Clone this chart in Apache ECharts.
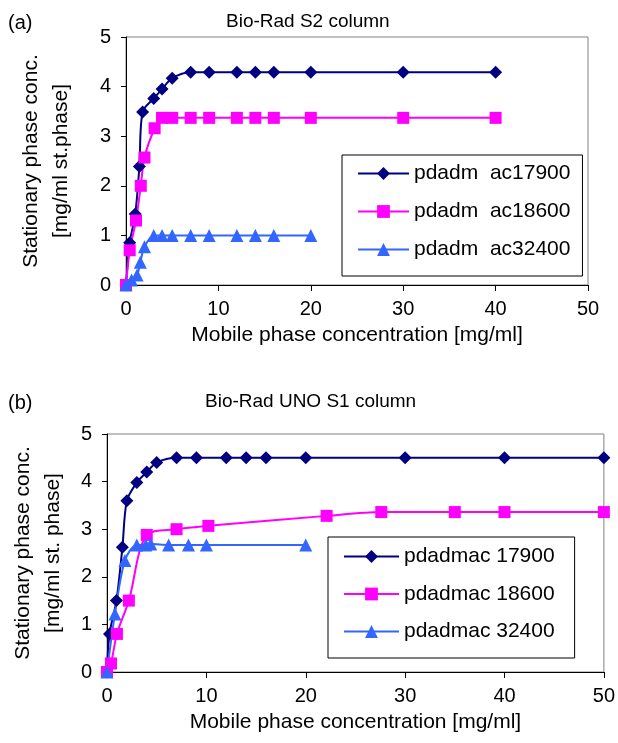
<!DOCTYPE html>
<html>
<head>
<meta charset="utf-8">
<script src="https://cdn.jsdelivr.net/npm/echarts@6/dist/echarts.min.js"></script>
<style>
  html, body { margin: 0; padding: 0; background: #fff; }
  #chart { width: 618px; height: 743px; }
</style>
</head>
<body>
<div id="chart"></div>
<script>
// (a) Bio-Rad S2 column
var s2NavyX = [0, 0.4, 1.0, 1.45, 1.8, 3, 3.9, 5, 7, 9, 12, 14, 16, 20, 30, 40];
var s2NavyY = [0, 0.85, 1.43, 2.39, 3.49, 3.76, 3.95, 4.17, 4.29, 4.29, 4.29, 4.29, 4.29, 4.29, 4.29, 4.29];
var s2PinkX = [0, 0.4, 1.08, 1.6, 2.0, 3.1, 3.9, 5, 7, 9, 12, 14, 16, 20, 30, 40];
var s2PinkY = [0, 0.7, 1.3, 2.0, 2.57, 3.16, 3.37, 3.37, 3.37, 3.37, 3.37, 3.37, 3.37, 3.37, 3.37, 3.37];
var s2BlueX = [0, 0.6, 1.2, 1.55, 2.0, 3, 3.9, 5, 7, 9, 12, 14, 16, 20];
var s2BlueY = [0, 0.1, 0.2, 0.46, 0.77, 1.0, 1.0, 1.0, 1.0, 1.0, 1.0, 1.0, 1.0, 1.0];

// (b) Bio-Rad UNO S1 column
var s1NavyX = [0, 0.25, 0.95, 1.55, 2, 3, 4, 5, 7, 9, 12, 14, 16, 20, 30, 40, 50];
var s1NavyY = [0, 0.8, 1.5, 2.62, 3.6, 3.98, 4.2, 4.4, 4.5, 4.5, 4.5, 4.5, 4.5, 4.5, 4.5, 4.5, 4.5];
var s1PinkX = [0, 0.4, 1.0, 2.2, 4.0, 7, 10.2, 22.1, 27.6, 35, 40, 50];
var s1PinkY = [0, 0.18, 0.8, 1.5, 2.88, 3.0, 3.07, 3.28, 3.36, 3.36, 3.36, 3.36];
var s1BlueX = [0, 0.8, 1.8, 3, 3.9, 4.4, 6.2, 8.2, 10, 20];
var s1BlueY = [0, 1.22, 2.34, 2.67, 2.67, 2.69, 2.67, 2.67, 2.67, 2.67];

var namesA = ["pdadm  ac17900", "pdadm  ac18600", "pdadm  ac32400"];
var namesB = ["pdadmac 17900", "pdadmac 18600", "pdadmac 32400"];
var xTicks = [0, 10, 20, 30, 40, 50];
var yTicks = [0, 1, 2, 3, 4, 5];

var FONT = "'Liberation Sans', Arial, sans-serif";
var NAVY = "#000080", PINK = "#FF00FF", BLUE = "#3366FF";

function pairs(xs, ys) {
  return xs.map(function (x, i) { return [x, ys[i]]; });
}

function line(name, color, symbol, xs, ys, idx) {
  return {
    type: "line", name: name, xAxisIndex: idx, yAxisIndex: idx,
    data: pairs(xs, ys), smooth: 0.3, clip: false,
    symbol: symbol, symbolSize: symbol === "rect" ? 12 : 13,
    lineStyle: { color: color, width: 2 },
    itemStyle: { color: color },
    emphasis: { disabled: true }
  };
}

function xAxis(idx) {
  return {
    type: "value", gridIndex: idx, min: xTicks[0], max: xTicks[xTicks.length - 1], interval: 10,
    name: "Mobile phase concentration [mg/ml]", nameLocation: "middle", nameGap: 40,
    nameTextStyle: { fontFamily: FONT, fontSize: 21, color: "#000" },
    axisLine: { lineStyle: { color: "#000", width: 1 } },
    axisTick: { inside: false, length: 6, lineStyle: { color: "#000" } },
    axisLabel: { fontFamily: FONT, fontSize: 20, color: "#000", margin: 14 },
    splitLine: { show: false }
  };
}

function yAxis(idx, label, gap) {
  return {
    type: "value", gridIndex: idx, min: yTicks[0], max: yTicks[yTicks.length - 1], interval: 1,
    name: label, nameLocation: "middle", nameRotate: 90, nameGap: gap,
    nameTextStyle: { fontFamily: FONT, fontSize: 21, color: "#000", lineHeight: 30 },
    axisLine: { lineStyle: { color: "#000", width: 1 } },
    axisTick: { inside: false, length: 5, lineStyle: { color: "#000" } },
    axisLabel: { fontFamily: FONT, fontSize: 20, color: "#000", margin: 15 },
    splitLine: { show: false }
  };
}

function legend(names, left, top, pad, itemWidth, gap) {
  return {
    data: names, orient: "vertical", left: left, top: top,
    padding: pad, itemWidth: itemWidth, itemHeight: 16, itemGap: gap,
    borderColor: "#000", borderWidth: 1, backgroundColor: "#fff",
    selectedMode: false,
    textStyle: { fontFamily: FONT, fontSize: 21, color: "#000", lineHeight: 21 }
  };
}

var chart = echarts.init(document.getElementById("chart"));
chart.setOption({
  animation: false,
  backgroundColor: "#fff",
  title: [
    { text: "(a)", left: 8, top: 13, padding: 0, textStyle: { fontFamily: FONT, fontSize: 20, fontWeight: "normal", color: "#000" } },
    { text: "Bio-Rad S2 column", left: 226, top: 12, padding: 0, textStyle: { fontFamily: FONT, fontSize: 19, fontWeight: "normal", color: "#000" } },
    { text: "(b)", left: 8, top: 393, padding: 0, textStyle: { fontFamily: FONT, fontSize: 20, fontWeight: "normal", color: "#000" } },
    { text: "Bio-Rad UNO S1 column", left: 205, top: 392, padding: 0, textStyle: { fontFamily: FONT, fontSize: 19, fontWeight: "normal", color: "#000" } }
  ],
  grid: [
    { left: 126, top: 37, width: 462, height: 248, show: true, borderColor: "#808080", borderWidth: 1, backgroundColor: "#fff" },
    { left: 106, top: 434, width: 502, height: 238, show: true, borderColor: "#808080", borderWidth: 1, backgroundColor: "#fff" }
  ],
  xAxis: [xAxis(0), xAxis(1)],
  yAxis: [
    yAxis(0, "Stationary phase conc.\n[mg/ml st.phase]", 50),
    yAxis(1, "Stationary phase conc.\n[mg/ml st. phase]", 39)
  ],
  legend: [
    legend(namesA, 342, 155, [8, 12, 16, 15], 51, 17),
    legend(namesB, 328, 537, [9, 20, 16, 15], 55, 16.5)
  ],
  series: [
    line(namesA[0], NAVY, "diamond", s2NavyX, s2NavyY, 0),
    line(namesA[1], PINK, "rect", s2PinkX, s2PinkY, 0),
    line(namesA[2], BLUE, "triangle", s2BlueX, s2BlueY, 0),
    line(namesB[0], NAVY, "diamond", s1NavyX, s1NavyY, 1),
    line(namesB[1], PINK, "rect", s1PinkX, s1PinkY, 1),
    line(namesB[2], BLUE, "triangle", s1BlueX, s1BlueY, 1)
  ]
});
</script>
</body>
</html>
